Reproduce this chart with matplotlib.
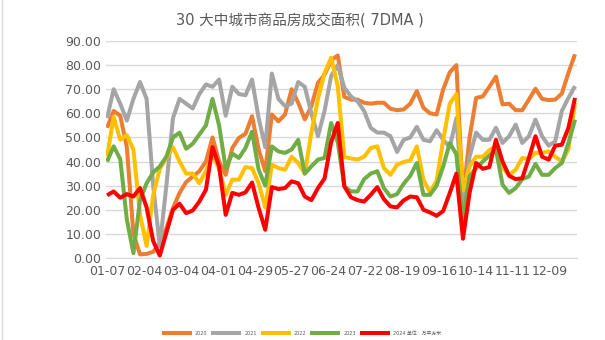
import numpy as np
import matplotlib.pyplot as plt
from matplotlib.lines import Line2D

plt.rcParams['font.family'] = ['DejaVu Sans', 'Noto Sans CJK SC']

# day offsets from 01-07, sampled every 5 days
days = np.arange(0, 360, 5)

tick_days = np.arange(0, 337, 28)
tick_labels = ['01-07', '02-04', '03-04', '04-01', '04-29', '05-27', '06-24',
               '07-22', '08-19', '09-16', '10-14', '11-11', '12-09']

years = ['2020', '2021', '2022', '2023', '2024 单位：万平方米']
colors = ['#ED7D31', '#A5A5A5', '#FFC000', '#70AD47', '#FF0000']

y2020 = [54, 61, 59, 46, 10, 1.5, 1.7, 2.6, 6, 12.3, 20.7, 27, 31.5, 33.8, 36, 40,
         50, 40, 34.5, 45.6, 49.8, 51.5, 58.8, 45, 36, 59.5, 56.7, 59.5, 70, 64.4,
         57.5, 63, 72.7, 76, 82, 84, 66.8, 65.7, 65.7, 64.4, 64, 64.4, 64.4, 61.9,
         61.3, 61.6, 64, 69.2, 62.3, 60, 59.5, 70, 77, 80, 25, 50, 66.4, 67, 71,
         75.2, 63.7, 64, 61.3, 61.3, 65.7, 70.2, 66, 65.5, 65.7, 68.2, 76.8, 84.5]
y2021 = [58, 70, 64, 57, 66, 73, 66, 30, 5, 30, 58, 66, 64, 62, 68, 72,
         71, 74, 59, 71, 68, 67.5, 74, 58, 46, 76.5, 66, 63, 64, 73,
         71, 60, 50.5, 61, 75.5, 80, 70.6, 67, 65, 61, 54, 52, 52, 50.5,
         44, 49, 50, 54.4, 49, 48.4, 53, 49, 46, 58, 23, 42, 52, 49, 49,
         54, 47.7, 50.5, 55.3, 47.7, 50.5, 57.4, 50.5, 46.6, 48.4, 61, 66.4, 71.3]
y2022 = [42, 58.5, 49, 51, 45, 18, 5, 26, 37, 41.5, 46, 40, 35, 35, 31, 36,
         42.8, 37, 26.2, 32.5, 32.5, 37.7, 37.3, 31, 21, 38.7, 37.3, 36.6, 42, 39.4,
         35, 52, 66, 76.8, 83, 71.3, 41.9, 41.3, 40.8, 42, 45.6, 46.3, 37.3, 34.5,
         38.7, 39.8, 40.5, 46.3, 32.5, 27.2, 32, 49, 64, 68, 28, 38, 42, 42, 44.7,
         46.3, 37.3, 34.5, 36.6, 41.5, 41, 43.6, 43.6, 44.2, 42, 40, 45, 64.4]
y2023 = [40, 46.3, 41, 16, 2, 24, 31, 35.5, 38, 42, 50, 52, 45.3, 47.4, 51.2, 55,
         66, 55, 37.3, 43.3, 41.5, 45.6, 52.4, 36.6, 30, 46.3, 44.2, 43.6, 45, 49,
         35, 38, 40.8, 41.5, 56, 48, 29.7, 27.6, 27.6, 32.7, 35, 36, 29, 25.5,
         26.5, 30.8, 34.1, 39.4, 26.2, 26.2, 30, 38, 47.7, 43, 15, 33.8, 37.3, 40, 42.4,
         45, 30.4, 27, 29, 32.7, 33.8, 39, 34.5, 34.5, 37.3, 39.4, 47.7, 57.4]
y2024 = [26, 27.6, 25, 26.5, 25.5, 29, 21, 7, 1, 10.5, 20, 22.5, 18.6, 19.7, 23.4, 28.3,
         46, 38, 17.9, 27, 26.2, 27.2, 31.3, 20.7, 11.7, 29.4, 28.6, 29, 31.8, 31,
         25.5, 24, 29, 33, 48, 56, 29.7, 25.2, 24, 23.4, 26.2, 29.4, 24.4, 21.4,
         21, 23.9, 25.5, 25.2, 20, 18.9, 17.5, 19.5, 27, 35, 8, 27, 39.4, 37, 37.7,
         49, 40, 34.1, 32.7, 33.1, 41.5, 50.5, 42, 40.8, 46.6, 47, 54, 66.4]

series = [y2020, y2021, y2022, y2023, y2024]

fig = plt.figure(figsize=(6.05, 3.40), dpi=100)
ax = fig.add_axes([106 / 605, 82 / 340, 471 / 605, 217 / 340])

handles = []
for vals, color, name in zip(series, colors, years):
    ln, = ax.plot(days, vals, color=color, lw=2.9, label=name,
                  solid_joinstyle='round', solid_capstyle='butt')
    handles.append(ln)

ax.set_xlim(-0.8, 356.5)
ax.set_ylim(0, 90)
ax.set_yticks(np.arange(0, 91, 10))
ax.set_yticklabels([f'{v:.2f}' for v in np.arange(0, 91, 10)])
ax.set_xticks(tick_days)
ax.set_xticklabels(tick_labels)

ax.yaxis.grid(True, color='#d9d9d9', lw=1)
ax.set_axisbelow(True)
for s in ['left', 'right', 'top']:
    ax.spines[s].set_visible(False)
ax.spines['bottom'].set_color('#d9d9d9')
ax.tick_params(axis='y', length=0, labelsize=9, labelcolor='#595959', pad=3.5)
ax.tick_params(axis='x', length=0, labelsize=9, labelcolor='#595959', pad=5)

fig.text(0.496, 1 - 21 / 340, '30 大中城市商品房成交面积( 7DMA )',
         ha='center', va='center', fontsize=10.5, color='#595959')

fig.legend(handles, years, loc='center', bbox_to_anchor=(0.498, 0.02), ncol=5,
           frameon=False, fontsize=3.5, handlelength=6.2, handletextpad=0.6,
           columnspacing=0.8, labelcolor='#595959')

fig.add_artist(Line2D([0.003, 0.003], [0, 1], color='#d9d9d9', lw=1,
                      transform=fig.transFigure))

fig.savefig('out.png', dpi=100)
